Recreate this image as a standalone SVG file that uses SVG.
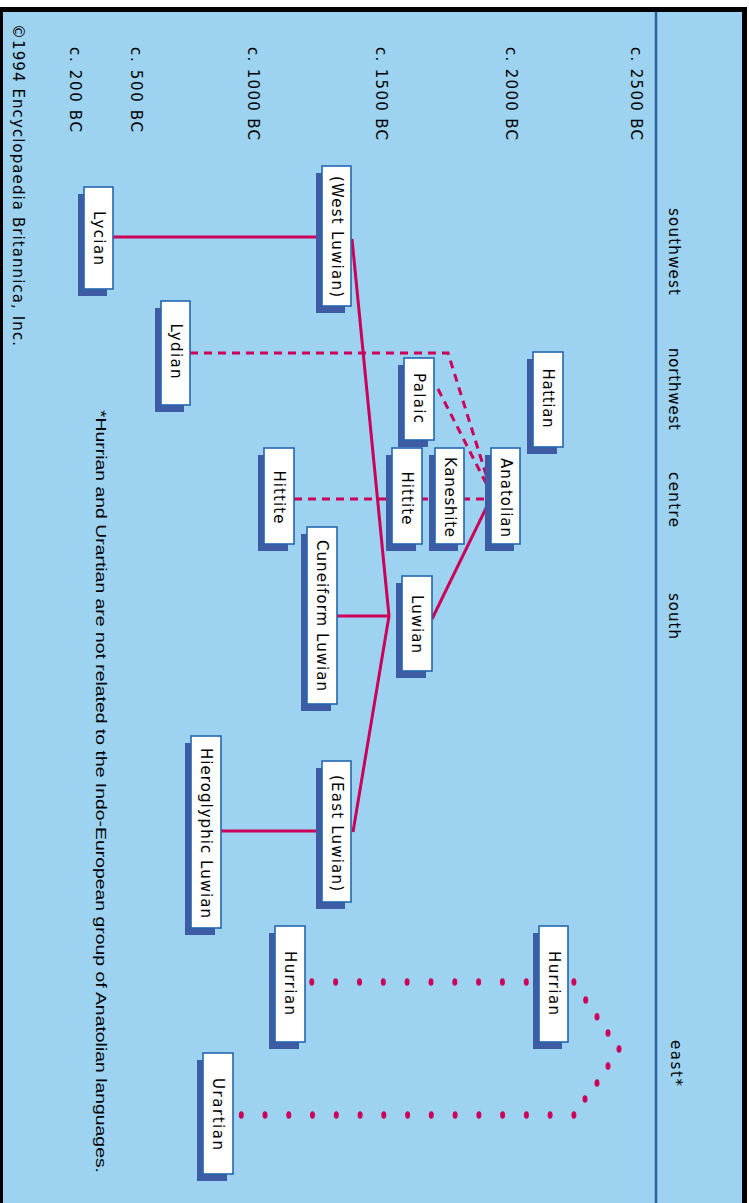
<svg xmlns="http://www.w3.org/2000/svg" xmlns:xlink="http://www.w3.org/1999/xlink" width="749" height="1203" viewBox="0 0 749 1203">
<style>
.sh{fill:#3d5ca3}
.bx{fill:#fff;stroke:#2566ae;stroke-width:1.6}
.lb{font-family:"DejaVu Sans",sans-serif;font-size:15px;fill:#000;text-anchor:middle}
.tx{font-family:"DejaVu Sans",sans-serif;font-size:15px;fill:#000}
.ln{stroke:#cc0058;stroke-width:3;fill:none}
.ds{stroke-dasharray:8 6}
.dt{fill:#cc0058}
</style>
<defs>
<ellipse id="d" cx="0" cy="0" rx="2.5" ry="3.8" class="dt"/>
</defs>
<rect x="0" y="0" width="749" height="1203" fill="#fff"/>
<rect x="0" y="7" width="747" height="1196" fill="#000"/>
<rect x="3" y="12" width="739" height="1191" fill="#9dd3f1"/>
<line x1="656" y1="12" x2="656" y2="1203" stroke="#2a62a9" stroke-width="2.5"/>

<g id="axis-labels">
<text class="tx" transform="translate(631,47) rotate(90)" textLength="93">c. 2500 BC</text>
<text class="tx" transform="translate(506,47) rotate(90)" textLength="93">c. 2000 BC</text>
<text class="tx" transform="translate(376,47) rotate(90)" textLength="93">c. 1500 BC</text>
<text class="tx" transform="translate(248,47) rotate(90)" textLength="93">c. 1000 BC</text>
<text class="tx" transform="translate(131,47) rotate(90)" textLength="85">c. 500 BC</text>
<text class="tx" transform="translate(70,47) rotate(90)" textLength="85">c. 200 BC</text>
<text class="tx" transform="translate(669,208) rotate(90)" textLength="87">southwest</text>
<text class="tx" transform="translate(669,348) rotate(90)" textLength="82">northwest</text>
<text class="tx" transform="translate(669,472) rotate(90)" textLength="55">centre</text>
<text class="tx" transform="translate(669,593) rotate(90)" textLength="46">south</text>
<text class="tx" transform="translate(671,1040) rotate(90)" textLength="46">east*</text>
<text class="tx" transform="translate(13,24) rotate(90)" textLength="322">©1994 Encyclopaedia Britannica, Inc.</text>
<text class="tx" transform="translate(96,410) rotate(90)" textLength="763" lengthAdjust="spacingAndGlyphs" style="font-family:'Liberation Sans',sans-serif">*Hurrian and Urartian are not related to the Indo-European group of Anatolian languages.</text>
</g>

<g id="connectors">
<path class="ln" d="M113,237 H322"/>
<path class="ln" d="M352,239 L389,616 L353,832"/>
<path class="ln" d="M337,616 H389"/>
<path class="ln" d="M221,831 H322"/>
<path class="ln" d="M432,619 L490,500"/>
<path class="ln ds" d="M190,353 H448 L489,484"/>
<path class="ln ds" d="M438,389 L489,489"/>
<path class="ln ds" d="M294,499 H491"/>
<g id="dots">
<use href="#d" x="311.8" y="982"/><use href="#d" x="335.6" y="982"/><use href="#d" x="359.5" y="982"/><use href="#d" x="383.3" y="982"/><use href="#d" x="407.1" y="982"/><use href="#d" x="431" y="982"/><use href="#d" x="454.8" y="982"/><use href="#d" x="478.6" y="982"/><use href="#d" x="502.4" y="982"/><use href="#d" x="526.3" y="982"/><use href="#d" x="573.9" y="982"/>
<use href="#d" x="585.7" y="1000"/><use href="#d" x="597" y="1016.7"/><use href="#d" x="608" y="1033"/><use href="#d" x="619" y="1049"/><use href="#d" x="608" y="1066"/><use href="#d" x="597" y="1083"/><use href="#d" x="585" y="1099"/>
<use href="#d" x="573.9" y="1115"/><use href="#d" x="550.1" y="1115"/><use href="#d" x="526.4" y="1115"/><use href="#d" x="502.6" y="1115"/><use href="#d" x="478.9" y="1115"/><use href="#d" x="455.1" y="1115"/><use href="#d" x="431.3" y="1115"/><use href="#d" x="407.6" y="1115"/><use href="#d" x="383.8" y="1115"/><use href="#d" x="360.1" y="1115"/><use href="#d" x="336.3" y="1115"/><use href="#d" x="312.5" y="1115"/><use href="#d" x="288.8" y="1115"/><use href="#d" x="265" y="1115"/><use href="#d" x="241.3" y="1115"/>
</g>
</g>

<g id="hattian"><rect class="sh" x="527" y="359" width="30" height="95"/><rect class="bx" x="533" y="352" width="30" height="95"/><text class="lb" transform="translate(543,398) rotate(90)" textLength="59">Hattian</text></g>
<g id="anatolian"><rect class="sh" x="485" y="455" width="29" height="96"/><rect class="bx" x="491" y="448" width="29" height="96"/><text class="lb" transform="translate(501,497.5) rotate(90)" textLength="79">Anatolian</text></g>
<g id="kaneshite"><rect class="sh" x="429" y="455" width="29" height="96"/><rect class="bx" x="435" y="448" width="29" height="96"/><text class="lb" transform="translate(445,497) rotate(90)" textLength="80">Kaneshite</text></g>
<g id="palaic"><rect class="sh" x="398" y="365" width="30" height="82"/><rect class="bx" x="404" y="358" width="30" height="82"/><text class="lb" transform="translate(414,398) rotate(90)" textLength="50">Palaic</text></g>
<g id="hittite-centre"><rect class="sh" x="386" y="455" width="30" height="96"/><rect class="bx" x="392" y="448" width="30" height="96"/><text class="lb" transform="translate(402,498) rotate(90)" textLength="53">Hittite</text></g>
<g id="hittite"><rect class="sh" x="258" y="455" width="30" height="96"/><rect class="bx" x="264" y="448" width="30" height="96"/><text class="lb" transform="translate(274,497) rotate(90)" textLength="53">Hittite</text></g>
<g id="cuneiform-luwian"><rect class="sh" x="301" y="534" width="30" height="177"/><rect class="bx" x="307" y="527" width="30" height="177"/><text class="lb" transform="translate(317,615.5) rotate(90)" textLength="151">Cuneiform Luwian</text></g>
<g id="luwian"><rect class="sh" x="396" y="583" width="30" height="95"/><rect class="bx" x="402" y="576" width="30" height="95"/><text class="lb" transform="translate(412,624) rotate(90)" textLength="58">Luwian</text></g>
<g id="west-luwian"><rect class="sh" x="316" y="173" width="29" height="140"/><rect class="bx" x="322" y="166" width="29" height="140"/><text class="lb" transform="translate(332,236.5) rotate(90)" textLength="121">(West Luwian)</text></g>
<g id="lycian"><rect class="sh" x="78" y="194" width="29" height="102"/><rect class="bx" x="84" y="187" width="29" height="102"/><text class="lb" transform="translate(94,238) rotate(90)" textLength="54">Lycian</text></g>
<g id="lydian"><rect class="sh" x="155" y="308" width="29" height="104"/><rect class="bx" x="161" y="301" width="29" height="104"/><text class="lb" transform="translate(171,351) rotate(90)" textLength="55">Lydian</text></g>
<g id="hieroglyphic-luwian"><rect class="sh" x="185" y="743" width="30" height="192"/><rect class="bx" x="191" y="736" width="30" height="192"/><text class="lb" transform="translate(201,833) rotate(90)" textLength="170">Hieroglyphic Luwian</text></g>
<g id="east-luwian"><rect class="sh" x="316" y="768" width="29" height="141"/><rect class="bx" x="322" y="761" width="29" height="141"/><text class="lb" transform="translate(332,833) rotate(90)" textLength="116">(East Luwian)</text></g>
<g id="hurrian-late"><rect class="sh" x="269" y="933" width="30" height="116"/><rect class="bx" x="275" y="926" width="30" height="116"/><text class="lb" transform="translate(285,983) rotate(90)" textLength="64">Hurrian</text></g>
<g id="hurrian-early"><rect class="sh" x="533" y="933" width="29" height="116"/><rect class="bx" x="539" y="926" width="29" height="116"/><text class="lb" transform="translate(549,983) rotate(90)" textLength="64">Hurrian</text></g>
<g id="urartian"><rect class="sh" x="197" y="1060" width="30" height="121"/><rect class="bx" x="203" y="1053" width="30" height="121"/><text class="lb" transform="translate(213,1114) rotate(90)" textLength="72">Urartian</text></g>
</svg>
